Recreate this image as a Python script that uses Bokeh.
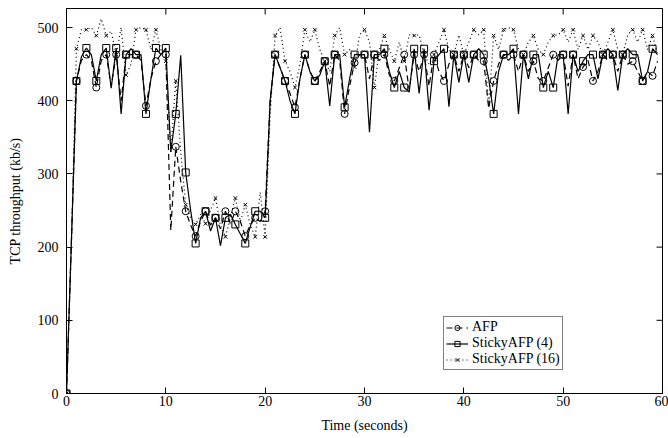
import math
from bokeh.plotting import figure
from bokeh.models import ColumnDataSource, CDSView, IndexFilter, Legend, LegendItem, Range1d, FixedTicker
from bokeh.embed import file_html
from bokeh.resources import INLINE

TIME = [i * 0.5 for i in range(120)]

AFP = [0, 210, 427, 455, 463, 455, 418, 455, 463, 420,
       463, 400, 463, 463, 463, 455, 393, 430, 454, 463,
       463, 223, 337, 290, 249, 230, 215, 235, 249, 230,
       240, 225, 249, 232, 249, 235, 215, 230, 240, 235,
       249, 400, 463, 445, 427, 410, 391, 430, 463, 440,
       427, 440, 454, 420, 463, 455, 382, 420, 452, 463,
       463, 430, 463, 455, 463, 435, 427, 445, 463, 415,
       463, 440, 463, 420, 463, 440, 427, 450, 463, 440,
       463, 445, 463, 455, 454, 390, 427, 450, 463, 455,
       463, 440, 463, 440, 454, 430, 427, 445, 463, 455,
       463, 420, 463, 430, 446, 455, 427, 440, 463, 455,
       463, 440, 463, 450, 454, 440, 427, 440, 434, 454]

STICKY4 = [0, 210, 427, 460, 472, 463, 427, 463, 472, 417,
           472, 382, 463, 471, 463, 463, 382, 430, 472, 463,
           472, 330, 382, 462, 302, 250, 205, 240, 249, 222,
           240, 202, 240, 245, 231, 218, 205, 228, 249, 249,
           240, 400, 463, 445, 427, 400, 382, 430, 463, 440,
           427, 435, 454, 393, 463, 463, 391, 430, 463, 463,
           463, 357, 463, 463, 471, 440, 418, 440, 418, 412,
           471, 410, 471, 387, 454, 463, 471, 392, 463, 425,
           463, 425, 463, 471, 463, 430, 382, 440, 463, 463,
           471, 382, 463, 430, 463, 463, 418, 440, 418, 463,
           463, 382, 463, 440, 454, 463, 463, 430, 463, 471,
           463, 414, 463, 471, 463, 463, 427, 440, 471, 463]

STICKY16 = [0, 210, 471, 497, 497, 500, 489, 512, 489, 495,
            463, 500, 435, 450, 497, 500, 497, 470, 497, 470,
            454, 330, 427, 330, 258, 240, 231, 245, 232, 250,
            267, 230, 214, 240, 267, 235, 258, 230, 214, 275,
            214, 380, 489, 500, 454, 440, 418, 450, 497, 480,
            497, 470, 454, 440, 489, 500, 463, 470, 446, 490,
            497, 480, 418, 470, 489, 470, 454, 480, 454, 490,
            489, 490, 463, 450, 463, 480, 497, 470, 463, 490,
            463, 480, 497, 490, 497, 390, 489, 470, 497, 500,
            497, 470, 463, 480, 489, 470, 463, 480, 489, 490,
            497, 480, 497, 470, 489, 470, 489, 480, 463, 480,
            497, 470, 463, 490, 497, 480, 497, 470, 489, 463]

X_TICKS = [0, 10, 20, 30, 40, 50, 60]
Y_TICKS = [0, 100, 200, 300, 400, 500]
LABELS = ["AFP", "StickyAFP (4)", "StickyAFP (16)"]
X_MAX = 60
Y_MAX = 526

FONT = "Liberation Serif"

src = ColumnDataSource(dict(t=TIME, afp=AFP, s4=STICKY4, s16=STICKY16))
view = CDSView(filter=IndexFilter(list(range(0, len(TIME), 2))))

p = figure(width=668, height=438, output_backend="svg", toolbar_location=None,
           x_range=Range1d(0, X_MAX), y_range=Range1d(0, Y_MAX),
           min_border_left=66, min_border_right=6, min_border_top=8, min_border_bottom=45)
p.background_fill_color = "white"
p.border_fill_color = "white"
p.grid.visible = False
p.outline_line_color = "black"
p.outline_line_width = 1

# mirrored inward ticks on top and right edges (clipped half-dashes)
p.scatter(X_TICKS, [Y_MAX] * len(X_TICKS), marker="dash", angle=math.pi / 2,
          size=12, line_color="black", line_width=1)
p.scatter([X_MAX] * len(Y_TICKS), Y_TICKS, marker="dash",
          size=12, line_color="black", line_width=1)

l1 = p.line("t", "afp", source=src, line_color="black", line_width=1.2, line_dash="6 4")
m1 = p.scatter("t", "afp", source=src, view=view, marker="circle", size=7,
               line_color="black", fill_color="white", fill_alpha=0)
l2 = p.line("t", "s4", source=src, line_color="black", line_width=1.2)
m2 = p.scatter("t", "s4", source=src, view=view, marker="square", size=7,
               line_color="black", fill_color="white", fill_alpha=0)
l3 = p.line("t", "s16", source=src, line_color="black", line_width=1.2, line_dash="1 3")
m3 = p.scatter("t", "s16", source=src, view=view, marker="x", size=5, line_color="black")

for ax in (p.xaxis[0], p.yaxis[0]):
    ax.major_tick_in = 6
    ax.major_tick_out = 0
    ax.minor_tick_in = 0
    ax.minor_tick_out = 0
    ax.axis_line_color = "black"
    ax.major_tick_line_color = "black"
    ax.major_label_text_font = FONT
    ax.major_label_text_font_size = "14px"
    ax.major_label_text_color = "black"
    ax.axis_label_text_font = FONT
    ax.axis_label_text_font_size = "14px"
    ax.axis_label_text_font_style = "normal"
    ax.axis_label_text_color = "black"

p.xaxis.ticker = FixedTicker(ticks=X_TICKS)
p.yaxis.ticker = FixedTicker(ticks=Y_TICKS)
p.xaxis.major_label_standoff = 2
p.yaxis.major_label_standoff = 8
p.xaxis.axis_label = "Time (seconds)"
p.yaxis.axis_label = "TCP throughput (kb/s)"
p.xaxis.axis_label_standoff = 9
p.yaxis.axis_label_standoff = 12

legend = Legend(items=[LegendItem(label=LABELS[0], renderers=[l1, m1]),
                       LegendItem(label=LABELS[1], renderers=[l2, m2]),
                       LegendItem(label=LABELS[2], renderers=[l3, m3])],
                location=(377, 23))
legend.label_text_font = FONT
legend.label_text_font_size = "14px"
legend.label_text_color = "black"
legend.glyph_height = 13
legend.glyph_width = 22
legend.label_height = 13
legend.spacing = 0
legend.padding = 2
legend.margin = 0
legend.label_standoff = 4
legend.border_line_color = "black"
legend.border_line_width = 1
legend.background_fill_color = "white"
p.add_layout(legend)

open("out.html", "w").write(file_html(p, INLINE))
